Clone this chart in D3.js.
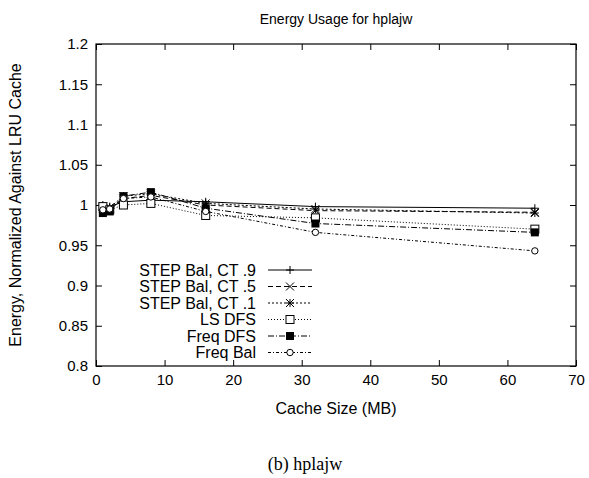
<!DOCTYPE html>
<html>
<head>
<meta charset="utf-8">
<script src="https://cdn.jsdelivr.net/npm/d3@7"></script>
<style>
  body { margin: 0; background: #fff; }
  text { font-family: "Liberation Sans", Arial, sans-serif; fill: #000; }
</style>
</head>
<body>
<script>

    // cache sizes (MB)
    var cacheSizes = [1, 2, 4, 8, 16, 32, 64];

    var seriesNames = ["STEP Bal, CT .9", "STEP Bal, CT .5", "STEP Bal, CT .1", "LS DFS", "Freq DFS", "Freq Bal"];

    var stepBal9 = [1.000, 0.998, 1.004, 1.006, 1.004, 0.998, 0.996];
    var stepBal5 = [0.998, 0.996, 1.008, 1.012, 1.000, 0.993, 0.991];
    var stepBal1 = [0.996, 0.997, 1.011, 1.014, 1.002, 0.995, 0.990];
    var lsDfs    = [0.998, 0.994, 1.000, 1.002, 0.987, 0.984, 0.970];
    var freqDfs  = [0.990, 0.992, 1.011, 1.016, 0.996, 0.977, 0.966];
    var freqBal  = [0.994, 0.995, 1.008, 1.010, 0.992, 0.966, 0.943];

    var xTicks = [0, 10, 20, 30, 40, 50, 60, 70];
    var yTicks = [0.8, 0.85, 0.9, 0.95, 1, 1.05, 1.1, 1.15, 1.2];

    var allSeries = [stepBal9, stepBal5, stepBal1, lsDfs, freqDfs, freqBal];
    var markers = ["plus", "cross", "star", "box", "fbox", "circle"];
    var dashes = ["none", "5,3", "2,2", "1,2", "6,2,1,2", "3,2,1,2"];

    var margin = { top: 44, right: 13, bottom: 112, left: 96 };
    var width = 589 - margin.left - margin.right,
        height = 478 - margin.top - margin.bottom;

    var x = d3.scaleLinear().domain([0, 70]).range([0, width]);
    var y = d3.scaleLinear().domain([0.8, 1.2]).range([height, 0]);

    var svg = d3.select("body").append("svg")
        .attr("width", 589)
        .attr("height", 478);

    var g = svg.append("g")
        .attr("transform", "translate(" + margin.left + "," + margin.top + ")");

    // frame
    g.append("rect")
        .attr("width", width).attr("height", height)
        .attr("fill", "none").attr("stroke", "#000").attr("stroke-width", 1.2);

    var xAxis = d3.axisBottom(x).tickValues(xTicks).tickSize(-6).tickPadding(8).tickFormat(d3.format("d"));
    var yAxis = d3.axisLeft(y).tickValues(yTicks).tickSize(-6).tickPadding(8).tickFormat(function (d) { return String(+d.toFixed(2)); });

    g.append("g")
        .attr("transform", "translate(0," + height + ")")
        .call(xAxis);
    g.append("g").call(yAxis);

    // gnuplot mirrors ticks on top/right
    g.append("g").call(d3.axisTop(x).tickValues(xTicks).tickSize(-6).tickFormat(""));
    g.append("g").attr("transform", "translate(" + width + ",0)")
        .call(d3.axisRight(y).tickValues(yTicks).tickSize(-6).tickFormat(""));

    g.selectAll(".domain").remove();
    g.selectAll(".tick line").attr("stroke", "#000");
    g.selectAll(".tick text").style("font-size", "15px").style("font-family", "Liberation Sans, Arial, sans-serif");

    function drawMarker(sel, type) {
        var s = 4;
        if (type === "plus") {
            sel.append("path").attr("d", "M" + -s + ",0H" + s + "M0," + -s + "V" + s)
                .attr("stroke", "#000").attr("fill", "none");
        } else if (type === "cross") {
            sel.append("path").attr("d", "M" + -s + "," + -s + "L" + s + "," + s + "M" + -s + "," + s + "L" + s + "," + -s)
                .attr("stroke", "#000").attr("fill", "none");
        } else if (type === "star") {
            sel.append("path").attr("d", "M" + -s + ",0H" + s + "M0," + -s + "V" + s +
                "M" + -s + "," + -s + "L" + s + "," + s + "M" + -s + "," + s + "L" + s + "," + -s)
                .attr("stroke", "#000").attr("fill", "none");
        } else if (type === "box") {
            sel.append("rect").attr("x", -s).attr("y", -s).attr("width", 2 * s).attr("height", 2 * s)
                .attr("stroke", "#000").attr("fill", "#fff");
        } else if (type === "fbox") {
            sel.append("rect").attr("x", -s).attr("y", -s).attr("width", 2 * s).attr("height", 2 * s)
                .attr("fill", "#000");
        } else {
            sel.append("circle").attr("r", 3.2)
                .attr("stroke", "#000").attr("fill", "#fff");
        }
    }

    var line = d3.line()
        .x(function (d) { return x(d[0]); })
        .y(function (d) { return y(d[1]); });

    allSeries.forEach(function (vals, i) {
        var pts = cacheSizes.map(function (c, j) { return [c, vals[j]]; });
        g.append("path")
            .datum(pts)
            .attr("d", line)
            .attr("fill", "none")
            .attr("stroke", "#000")
            .attr("stroke-width", 1)
            .attr("stroke-dasharray", dashes[i]);
        pts.forEach(function (p) {
            var m = g.append("g").attr("transform", "translate(" + x(p[0]) + "," + y(p[1]) + ")");
            drawMarker(m, markers[i]);
        });
    });

    // legend
    var legend = g.append("g");
    seriesNames.forEach(function (name, i) {
        var ly = 226 + i * 16.5;
        legend.append("text")
            .attr("x", 160).attr("y", ly)
            .attr("dy", "0.35em")
            .style("text-anchor", "end")
            .style("font-size", "16px")
            .text(name);
        legend.append("line")
            .attr("x1", 172).attr("x2", 216)
            .attr("y1", ly).attr("y2", ly)
            .attr("stroke", "#000")
            .attr("stroke-dasharray", dashes[i]);
        var m = legend.append("g").attr("transform", "translate(194," + ly + ")");
        drawMarker(m, markers[i]);
    });

    // titles
    svg.append("text")
        .attr("x", margin.left + width / 2).attr("y", 19)
        .attr("dy", "0.35em")
        .style("text-anchor", "middle")
        .style("font-size", "14px")
        .text("Energy Usage for hplajw");

    svg.append("text")
        .attr("x", margin.left + width / 2).attr("y", 408)
        .attr("dy", "0.35em")
        .style("text-anchor", "middle")
        .style("font-size", "16px")
        .text("Cache Size (MB)");

    svg.append("text")
        .attr("transform", "translate(15," + (margin.top + height / 2) + ") rotate(-90)")
        .attr("dy", "0.35em")
        .style("text-anchor", "middle")
        .style("font-size", "16px")
        .text("Energy, Normalized Against LRU Cache");

    svg.append("text")
        .attr("x", 305).attr("y", 464)
        .attr("dy", "0.35em")
        .style("text-anchor", "middle")
        .style("font-family", "Liberation Serif, Times New Roman, serif")
        .style("font-size", "18px")
        .text("(b) hplajw");

</script>
</body>
</html>
